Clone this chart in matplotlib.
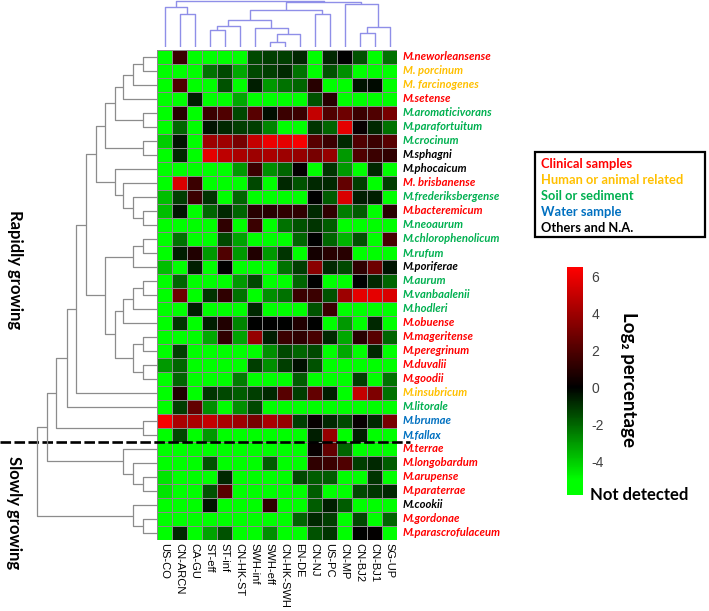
import numpy as np
import matplotlib
matplotlib.use("Agg")
import matplotlib.pyplot as plt
from matplotlib.colors import LinearSegmentedColormap, Normalize
from matplotlib.patches import Rectangle
from matplotlib.transforms import blended_transform_factory

# -----------------------------
# data
# -----------------------------
columns = ["US-CO", "CN-ARCN", "CA-GU", "ST-eff", "ST-inf", "CN-HK-ST", "SWH-inf",
           "SWH-eff", "CN-HK-SWH", "EN-DE", "CN-NJ", "US-PC", "CN-MP", "CN-BJ2",
           "CN-BJ1", "SG-UP"]

species = ["M.neworleansense", "M. porcinum", "M. farcinogenes", "M.setense",
           "M.aromaticivorans", "M.parafortuitum", "M.crocinum", "M.sphagni",
           "M.phocaicum", "M. brisbanense", "M.frederiksbergense", "M.bacteremicum",
           "M.neoaurum", "M.chlorophenolicum", "M.rufum", "M.poriferae", "M.aurum",
           "M.vanbaalenii", "M.hodleri", "M.obuense", "M.mageritense", "M.peregrinum",
           "M.duvalii", "M.goodii", "M.insubricum", "M.litorale", "M.brumae",
           "M.fallax", "M.terrae", "M.longobardum", "M.arupense", "M.paraterrae",
           "M.cookii", "M.gordonae", "M.parascrofulaceum"]

# source of each species (C clinical, H human/animal, S soil, W water, O others)
source = ["C", "H", "H", "C", "S", "S", "S", "O", "O", "C", "S", "C", "S", "S", "S",
          "O", "S", "S", "S", "C", "C", "C", "C", "C", "H", "S", "W", "W", "C", "C",
          "C", "C", "O", "C", "C"]

source_names = ["Clinical samples", "Human or animal related", "Soil or sediment",
                "Water sample", "Others and N.A."]
source_keys = ["C", "H", "S", "W", "O"]
source_colors = ["#FF0000", "#FFC000", "#00B050", "#0070C0", "#000000"]

n_rapid = 28  # first 28 rows are rapidly growing

nd = None  # not detected
values = [
    [nd, 1.5, nd, nd, nd, nd, -1.4, -1.2, -1.2, -0.8, nd, -0.8, 0, -1.6, nd, -2.2],
    [nd, nd, nd, -2.2, -1.4, -3.3, -1.4, -1.2, -0.8, -2.2, nd, -1.6, -2.8, nd, nd, nd],
    [nd, 2, nd, nd, -1.6, nd, -0.6, -3, -2.2, -2, 1, nd, nd, -0.4, -0.2, nd],
    [nd, nd, -0.6, nd, nd, -3.3, nd, nd, nd, nd, -1.6, 1, nd, nd, nd, nd],
    [nd, 1, nd, 1.5, 2, -1.4, 2.2, -0.3, 1.5, 1.5, 5, 2, 2.8, 1.5, 2, 3],
    [nd, -2, nd, -0.4, -0.8, -1.2, -1.2, -2.6, nd, nd, -1, -2, 5.8, 0.2, -0.8, -2.2],
    [-4, -0.4, nd, 4, 4, 3, 5, 6, 5.8, 6.3, 2.2, 1.5, -0.8, 2, 1.5, 2.2],
    [nd, -0.8, nd, 5.8, 4.8, 4.3, 4, 4.3, 4, 3.8, 3, 3.8, -3, 2, 1.5, 1.2],
    [nd, nd, nd, nd, nd, -3, 1.5, -2.8, -2, 0.1, nd, -1, -3, nd, -0.8, nd],
    [nd, 5.5, 1.5, nd, nd, nd, -1.4, nd, -0.8, -1.6, -0.8, -0.8, 2.5, -1.2, nd, -1.2],
    [-3.7, -1.2, 1.5, -1, nd, -2, nd, nd, nd, nd, 0, -1.8, 5.5, -0.6, -0.6, nd],
    [-3.7, -0.4, nd, -2, -0.8, -2, 1, 1, 1.2, 1.2, -0.8, 1.2, -2.4, -1.8, nd, 1],
    [nd, nd, nd, nd, 1.2, nd, 1.5, nd, -2.2, -1.6, -1, -1.8, nd, nd, nd, nd],
    [nd, -2.2, nd, nd, -1.4, -3.2, nd, nd, nd, -2, 0, -2, -3.5, -1.6, nd, 1.8],
    [nd, -0.6, 0.8, -3, 2, -3, 0.8, -3, -1, nd, 0.5, 1, 1, nd, nd, nd],
    [-3.7, nd, -0.6, nd, 0, nd, nd, nd, -2.2, -1.2, 3.5, -0.8, -1.4, 1.2, 2.8, -0.4],
    [nd, -2, nd, nd, nd, -3, -1.4, nd, nd, -2, 0, nd, nd, 0, -0.8, -2],
    [nd, 2.8, nd, -1, 1.2, -2.2, nd, -2.8, -2.2, 1.5, 1.5, -1.6, 4, 5.8, 5.8, 5.5],
    [nd, nd, -0.6, nd, nd, nd, -0.8, nd, nd, nd, -1.6, 1.5, nd, nd, nd, nd],
    [nd, -1, nd, -0.6, 0.8, -2.6, 0, 0, 0, 0.8, 0, nd, -3, nd, -0.8, nd],
    [nd, nd, nd, -3.3, 1.2, -3.2, 3.8, -0.6, 1.5, 1.2, 1.8, -0.8, -3.3, 1, 2.2, -2],
    [nd, -1.2, nd, nd, nd, nd, nd, -2.8, -1.4, -2, -1.4, nd, -3.3, nd, -0.8, nd],
    [-3, -2, nd, nd, nd, nd, -1.2, -2.8, -1.2, -0.3, -1.6, nd, nd, nd, nd, nd],
    [nd, -2, nd, nd, nd, -2.4, nd, nd, nd, -1.8, nd, nd, nd, -1.2, nd, -2.2],
    [nd, 0.8, nd, -1, -1.4, -1.8, -1.2, -0.8, 2.2, -1.2, 2.5, -0.6, nd, 5, 3.2, -2.2],
    [nd, -1.2, 2.5, -2.8, nd, -2.8, -1.4, nd, nd, nd, nd, nd, nd, nd, nd, nd],
    [6.3, 4.3, 4.3, 5, 4.3, 4, 3, 4.3, 3.8, -1.2, 0.2, -0.8, -1.4, 0.2, -0.8, 3],
    [nd, -1.4, nd, -3, nd, nd, nd, nd, nd, nd, -0.6, 3.8, nd, -0.6, nd, nd],
    [nd, nd, nd, nd, nd, nd, nd, nd, nd, nd, 0.2, 2.5, -2, nd, nd, nd],
    [nd, nd, nd, -1.6, nd, nd, nd, -1.8, nd, nd, 1.2, 1.5, 2, -1.2, -0.8, -1.8],
    [-4.5, nd, nd, nd, -0.8, nd, nd, nd, nd, -1.4, -1.8, -1.8, nd, nd, -1, nd],
    [-4.5, nd, nd, -1.6, 2.2, nd, nd, nd, nd, nd, -1.8, nd, nd, -1.4, -1, -0.8],
    [nd, nd, nd, -0.4, nd, nd, nd, 1.2, nd, nd, -1.8, -0.6, -1.8, nd, nd, nd],
    [nd, nd, nd, nd, nd, nd, nd, nd, nd, -2, -0.8, -1.2, nd, -1.4, nd, -2],
    [nd, -0.8, nd, -3.2, -1.6, nd, nd, -2.8, nd, nd, -1.6, -1, nd, 0, 0.1, nd],
]

# hierarchical clustering merges: (left, right, height); ids >= n are earlier merges
row_merges = [
    (0, 1, 13.7), (35, 2, 23.7), (36, 3, 33.7), (4, 5, 13.7), (37, 38, 42),
    (6, 7, 13.7), (39, 40, 52), (11, 12, 13.7), (10, 42, 23.7), (9, 43, 33.7),
    (8, 44, 42), (41, 45, 61.3), (13, 14, 13.7), (47, 15, 23.7), (16, 17, 13.7),
    (49, 18, 23.7), (50, 19, 33.7), (20, 21, 13.7), (22, 23, 13.7), (52, 53, 23.7),
    (51, 54, 42), (48, 55, 52), (46, 56, 71), (57, 24, 81), (58, 25, 90.3),
    (26, 27, 13.7), (59, 60, 100.7), (30, 31, 13.7), (29, 62, 23.7), (28, 63, 33.7),
    (61, 64, 110.3), (33, 34, 13.7), (32, 66, 23.7), (65, 67, 119.7),
]
col_merges = [
    (1, 2, 32.7), (0, 16, 40), (3, 4, 17.4), (18, 5, 20.7), (7, 8, 5),
    (20, 9, 13.4), (6, 21, 18.7), (19, 22, 27.4), (10, 11, 33.4), (23, 24, 37.4),
    (13, 14, 14), (26, 15, 20), (12, 27, 42.7), (25, 28, 45), (17, 29, 46.2),
]

vmin, vmax = -5.8, 6.5


def draw_tree(ax, merges, n, orient, color, lw):
    pos = {i: i + 0.5 for i in range(n)}
    hgt = {i: 0.0 for i in range(n)}
    for k, (a, b, h) in enumerate(merges):
        pa, pb = pos[a], pos[b]
        xs = [pa, pa, pb, pb]
        hs = [hgt[a], h, h, hgt[b]]
        if orient == "top":
            ax.plot(xs, hs, color=color, lw=lw, solid_capstyle="butt")
        else:
            ax.plot(hs, xs, color=color, lw=lw, solid_capstyle="butt")
        pos[n + k] = (pa + pb) / 2
        hgt[n + k] = h


bold_font = ["Lato", "DejaVu Sans"]

W, H = 709, 611
fig = plt.figure(figsize=(W / 100, H / 100), dpi=100)

hm_l, hm_r, hm_t, hm_b = 157, 397, 50, 540


def fr(x0, y0, x1, y1):
    return [x0 / W, 1 - y1 / H, (x1 - x0) / W, (y1 - y0) / H]


# heatmap
ax = fig.add_axes(fr(hm_l, hm_t, hm_r, hm_b))
data = np.array([[np.nan if v is None else v for v in row] for row in values], dtype=float)
data = np.where(np.isnan(data), vmin, data)
z0 = (0 - vmin) / (vmax - vmin)
z5 = (-5 - vmin) / (vmax - vmin)
cmap = LinearSegmentedColormap.from_list(
    "gkr", [(0, "#00FF00"), (z5, "#00FF00"), (z0, "#000000"), (1, "#FF0000")])
norm = Normalize(vmin=vmin, vmax=vmax)
mesh = ax.pcolormesh(data, cmap=cmap, norm=norm, edgecolors="#8a8a8a", linewidth=0.6)
ax.set_xlim(0, len(columns))
ax.set_ylim(len(species), 0)
ax.set_xticks(np.arange(len(columns)) + 0.5)
ax.set_xticklabels(columns, rotation=270, fontsize=8, family="Liberation Sans")
ax.tick_params(axis="x", length=0, pad=2)
ax.set_yticks([])
for s in ax.spines.values():
    s.set_visible(False)

col_of = dict(zip(source_keys, source_colors))
for i, name in enumerate(species):
    ax.text(len(columns) + 0.4, i + 0.5, name, ha="left", va="center",
            color=col_of[source[i]], fontsize=8.1, fontweight="bold",
            fontstyle="italic", family=bold_font, clip_on=False)

# dendrograms
axl = fig.add_axes(fr(0, hm_t, hm_l, hm_b))
draw_tree(axl, row_merges, len(species), "left", "#8c8c8c", 0.9)
axl.set_xlim(hm_l, 0)
axl.set_ylim(len(species), 0)
axl.axis("off")

axt = fig.add_axes(fr(hm_l, 0, hm_r, 47))
draw_tree(axt, col_merges, len(columns), "top", "#8f8fe8", 1.0)
axt.set_xlim(0, len(columns))
axt.set_ylim(0, 47)
axt.axis("off")

# split between rapidly and slowly growing
tr = blended_transform_factory(fig.transFigure, ax.transData)
ax.plot([0, 410 / W], [n_rapid, n_rapid], transform=tr, color="black", lw=1.9,
        dashes=(4, 1.3), clip_on=False)
fig.text(15 / W, 1 - 270 / H, "Rapidly growing", rotation=270, ha="center", va="center",
         fontsize=12, fontweight="bold", family=bold_font)
fig.text(14 / W, 1 - 513 / H, "Slowly growing", rotation=270, ha="center", va="center",
         fontsize=12, fontweight="bold", family=bold_font)

# legend box
fig.add_artist(Rectangle((535 / W, 1 - 237 / H), 170 / W, 85 / H, transform=fig.transFigure,
                         fill=False, edgecolor="black", lw=1.6))
for k, (nm, c) in enumerate(zip(source_names, source_colors)):
    fig.text(541 / W, 1 - (164 + 16 * k) / H, nm, color=c, ha="left", va="center",
             fontsize=9.3, fontweight="bold", family=bold_font)

# colorbar
cax = fig.add_axes(fr(567, 267, 583, 495))
cb = fig.colorbar(mesh, cax=cax, ticks=[6, 4, 2, 0, -2, -4])
cb.ax.set_yticklabels(["6", "4", "2", "0", "-2", "-4"])
cb.outline.set_visible(False)
cax.tick_params(length=0, pad=6, labelsize=10, labelcolor="#404040")
for t in cax.get_yticklabels():
    t.set_family("Liberation Sans")
fig.text(629 / W, 1 - 380 / H, "Log\u2082 percentage", rotation=270, ha="center",
         va="center", fontsize=13.5, fontweight="bold", family=bold_font)
fig.text(590 / W, 1 - 495 / H, "Not detected", ha="left", va="center",
         fontsize=12, fontweight="bold", family=bold_font)

fig.savefig("out.png", dpi=100)
